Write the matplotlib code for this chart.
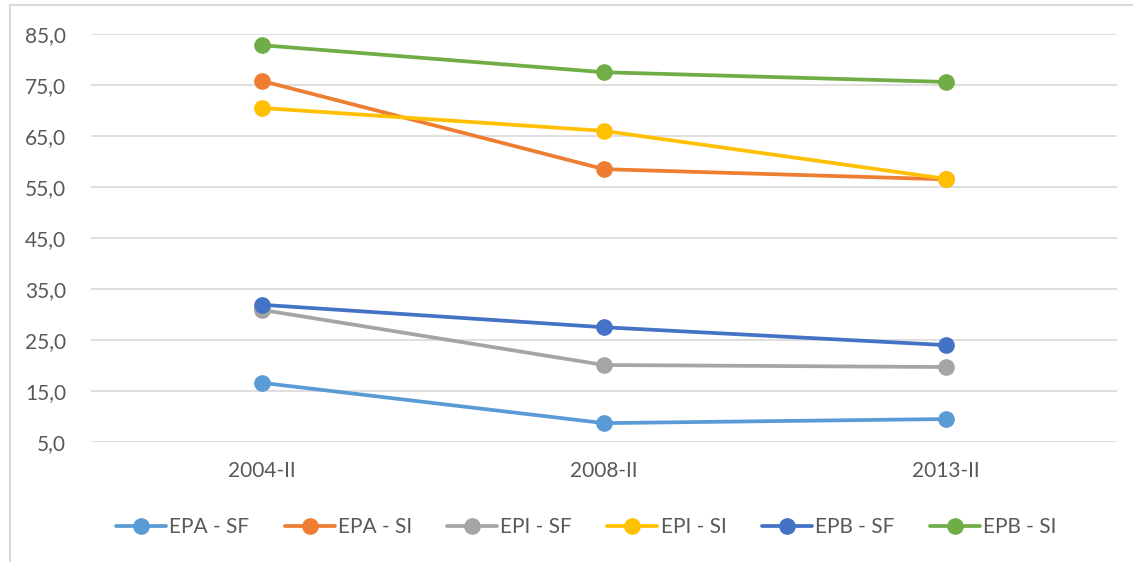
import matplotlib
matplotlib.use('Agg')
import matplotlib.pyplot as plt
from matplotlib.lines import Line2D

# Datos
periodos = ['2004-II', '2008-II', '2013-II']
series = ['EPA - SF', 'EPA - SI', 'EPI - SF', 'EPI - SI', 'EPB - SF', 'EPB - SI']
epa_sf = [16.6, 8.7, 9.5]
epa_si = [75.8, 58.5, 56.5]
epi_sf = [30.9, 20.1, 19.7]
epi_si = [70.5, 66.0, 56.6]
epb_sf = [31.9, 27.5, 24.0]
epb_si = [82.8, 77.5, 75.6]
valores = [epa_sf, epa_si, epi_sf, epi_si, epb_sf, epb_si]
colores = ['#5B9BD5', '#ED7D31', '#A5A5A5', '#FFC000', '#4472C4', '#70AD47']

plt.rcParams['font.family'] = ['Lato', 'DejaVu Sans']

fig = plt.figure(figsize=(11.33, 5.62), dpi=100)
ax = fig.add_axes([91 / 1133, 1 - 442 / 562, (1117 - 91) / 1133, (442 - 34) / 562])

x = list(range(len(periodos)))
for nombre, vals, col in zip(series, valores, colores):
    ax.plot(x, vals, color=col, linewidth=2.7, marker='o', markersize=11,
            label=nombre, solid_capstyle='round')

ax.set_xlim(-0.5, 2.5)
ax.set_ylim(5, 85)
ax.set_yticks(range(5, 86, 10))
ax.set_yticklabels([f'{v:.1f}'.replace('.', ',') for v in range(5, 86, 10)])
ax.set_xticks(x)
ax.set_xticklabels(periodos)
ax.grid(axis='y', color='#D9D9D9', linewidth=1.2)
ax.set_axisbelow(True)
for s in ax.spines.values():
    s.set_visible(False)
ax.tick_params(length=0, labelsize=15, colors='#595959')
ax.tick_params(axis='x', pad=14)
ax.tick_params(axis='y', pad=18)

leg = fig.legend(loc='center', bbox_to_anchor=(586 / 1133, 1 - 527 / 562), ncol=6,
                 frameon=False, fontsize=15, handlelength=2.4, columnspacing=1.7,
                 handletextpad=0.15)
for t in leg.get_texts():
    t.set_color('#595959')

# Borde del área del gráfico
fig.add_artist(Line2D([10.5 / 1133, 10.5 / 1133], [0, 1 - 5 / 562], color='#D9D9D9',
                      linewidth=1.5, transform=fig.transFigure))
fig.add_artist(Line2D([10.5 / 1133, 1], [1 - 5 / 562, 1 - 5 / 562], color='#D9D9D9',
                      linewidth=1.5, transform=fig.transFigure))

fig.savefig('out.png', dpi=100)
